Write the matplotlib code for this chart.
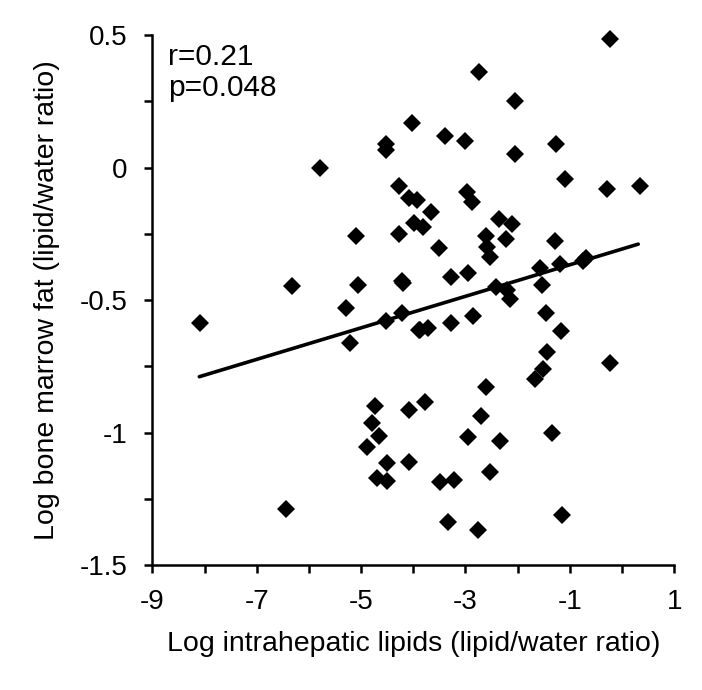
import numpy as np
import matplotlib
matplotlib.use("Agg")
import matplotlib.pyplot as plt
from matplotlib.ticker import MultipleLocator

# values
liver_fat = [-8.09, -6.33, -6.44, -5.79, -5.28, -5.21, -5.10, -5.05,
             -4.52, -4.52, -4.52, -4.51, -4.51, -4.27, -4.27, -4.21, -4.21, -4.19,
             -4.08, -4.08, -4.08, -4.02, -3.99, -3.93, -3.90, -3.87, -3.82, -3.78,
             -3.71, -3.66, -3.51, -3.49, -3.39, -3.33, -3.28, -3.28, -3.22,
             -3.00, -2.98, -2.96, -2.95, -2.88, -2.85, -2.77, -2.74, -2.71,
             -2.61, -2.61, -2.58, -2.54, -2.54, -2.42, -2.35, -2.34, -2.22,
             -2.21, -2.15, -2.10, -2.05, -2.05, -1.67, -1.57, -1.53, -1.51,
             -1.46, -1.43, -1.35, -1.29, -1.27, -1.18, -1.17, -1.15, -1.10,
             -0.74, -0.70, -0.29, -0.23, -0.23, 0.34,
             -4.79, -4.73, -4.65, -4.69, -4.89]
marrow_fat = [-0.586, -0.446, -1.289, 0.0, -0.531, -0.660, -0.258, -0.443,
              0.091, 0.066, -0.579, -1.114, -1.182, -0.071, -0.252, -0.427, -0.55, -0.437,
              -0.114, -0.915, -1.110, 0.167, -0.207, -0.123, -0.613, -0.613, -0.223, -0.886,
              -0.604, -0.167, -0.303, -1.186, 0.118, -1.337, -0.412, -0.586, -1.177,
              0.101, -0.091, -0.397, -1.016, -0.131, -0.560, -1.368, 0.362, -0.938,
              -0.257, -0.827, -0.299, -0.337, -1.148, -0.450, -0.194, -1.031, -0.269,
              -0.462, -0.497, -0.212, 0.250, 0.052, -0.796, -0.380, -0.441, -0.760,
              -0.548, -0.695, -1.001, -0.275, 0.088, -0.362, -0.617, -1.311, -0.043,
              -0.352, -0.340, -0.080, 0.484, -0.739, -0.070,
              -0.963, -0.899, -1.011, -1.173, -1.053]

# trend line as drawn in the reference (slope, intercept, x range)
fit_slope = 0.0595
fit_intercept = -0.307
fit_range = [-8.1, 0.31]

x_ticks = [-9, -7, -5, -3, -1, 1]
y_ticks = [-1.5, -1, -0.5, 0, 0.5]
y_labels = ["-1.5", "-1", "-0.5", "0", "0.5"]

plt.rcParams['font.family'] = ['Liberation Sans', 'DejaVu Sans']
plt.rcParams['axes.unicode_minus'] = False

fig = plt.figure(figsize=(7.02, 6.9), dpi=100)
ax = fig.add_axes([0.217, 0.181, 0.7435, 0.768])

ax.plot(liver_fat, marrow_fat, 'D', color='black', ms=9.5, mew=0, clip_on=False)

xl = np.array(fit_range)
ax.plot(xl, fit_slope * xl + fit_intercept, color='black', lw=2.6,
        solid_capstyle='round')

ax.set_xlim(-9, 1)
ax.set_ylim(-1.5, 0.5)
ax.set_xticks(x_ticks)
ax.set_yticks(y_ticks)
ax.set_yticklabels(y_labels)
ax.xaxis.set_minor_locator(MultipleLocator(1))
ax.yaxis.set_minor_locator(MultipleLocator(0.25))
ax.tick_params(which='both', direction='out', width=1.8, length=6, labelsize=20)
ax.tick_params(axis='x', which='major', pad=11)
ax.tick_params(axis='y', which='major', pad=12)
for s in ['top', 'right']:
    ax.spines[s].set_visible(False)
for s in ['left', 'bottom']:
    ax.spines[s].set_linewidth(1.8)

ax.set_xlabel("Log intrahepatic lipids (lipid/water ratio)", fontsize=20.5, labelpad=12)
ax.set_ylabel("Log bone marrow fat (lipid/water ratio)", fontsize=20.5, labelpad=14)

ax.text(0.03, 0.985, "r=0.21\np=0.048", transform=ax.transAxes, fontsize=21.5,
        va='top', ha='left', linespacing=1.15)

plt.savefig("out.png", dpi=100)
